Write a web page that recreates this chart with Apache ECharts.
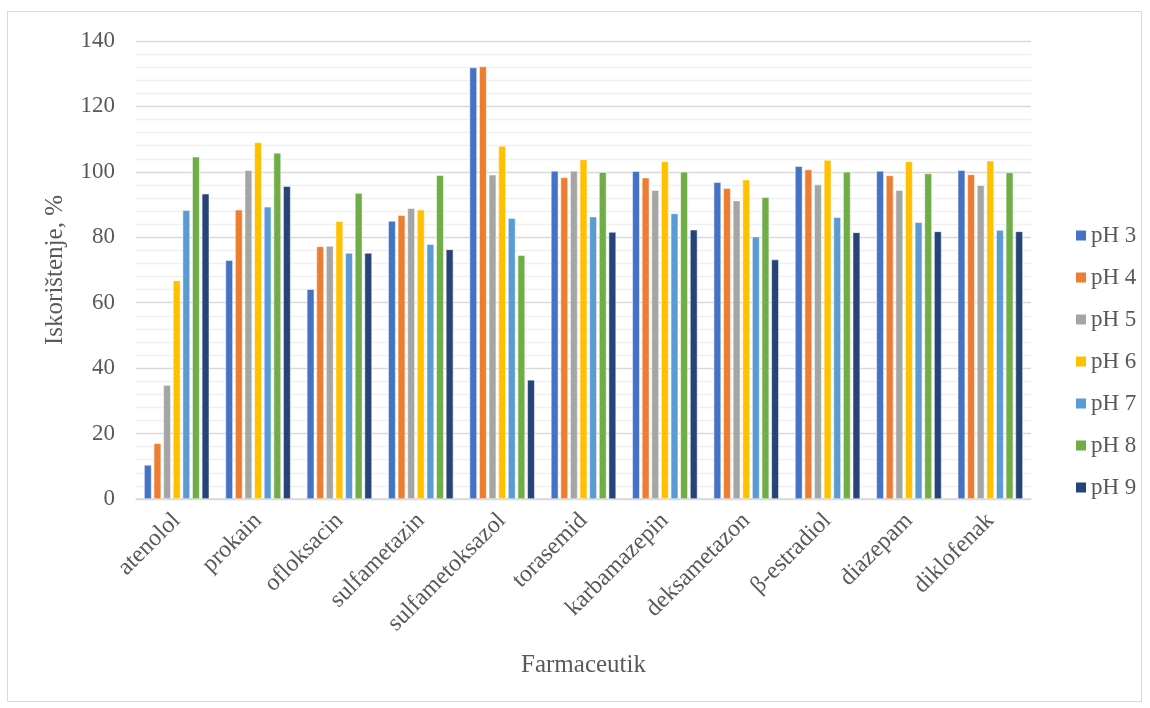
<!DOCTYPE html>
<html>
<head>
<meta charset="utf-8">
<script src="https://cdn.jsdelivr.net/npm/echarts@6/dist/echarts.min.js"></script>
<style>
html, body { margin: 0; padding: 0; background: #fff; }
#chart {
    position: absolute;
    left: 7px; top: 11px;
    width: 1135px; height: 691px;
    border: 1px solid #d9d9d9;
    box-sizing: border-box;
}
</style>
</head>
<body>
<div id="chart"></div>
<script>
// kategorije i vrijednosti (iskorištenje, %)
const farmaceutici = ['atenolol', 'prokain', 'ofloksacin', 'sulfametazin', 'sulfametoksazol',
    'torasemid', 'karbamazepin', 'deksametazon', 'β-estradiol', 'diazepam', 'diklofenak'];
const serije = ['pH 3', 'pH 4', 'pH 5', 'pH 6', 'pH 7', 'pH 8', 'pH 9'];
const pH3 = [10.4, 73.0, 64.1, 85.0, 131.9, 100.3, 100.2, 96.8, 101.7, 100.3, 100.5];
const pH4 = [17.0, 88.4, 77.2, 86.7, 132.2, 98.3, 98.2, 95.0, 100.7, 98.9, 99.2];
const pH5 = [34.8, 100.5, 77.3, 88.9, 99.1, 100.3, 94.4, 91.2, 96.1, 94.4, 95.9];
const pH6 = [66.8, 109.0, 84.9, 88.4, 107.9, 103.8, 103.2, 97.6, 103.6, 103.2, 103.4];
const pH7 = [88.3, 89.3, 75.2, 77.9, 85.8, 86.3, 87.3, 80.2, 86.1, 84.6, 82.2];
const pH8 = [104.6, 105.8, 93.5, 99.0, 74.5, 99.9, 100.0, 92.2, 100.0, 99.5, 99.8];
const pH9 = [93.3, 95.6, 75.2, 76.3, 36.4, 81.6, 82.3, 73.2, 81.5, 81.8, 81.8];
const yTicks = [0, 20, 40, 60, 80, 100, 120, 140];

const boje = ['#4472C4', '#ED7D31', '#A5A5A5', '#FFC000', '#5B9BD5', '#70AD47', '#264478'];
const podaci = [pH3, pH4, pH5, pH6, pH7, pH8, pH9];
const font = '"Liberation Serif", "Times New Roman", serif';

let chart = echarts.init(document.getElementById('chart'));

let option = {
    animation: false,
    color: boje,
    textStyle: { fontFamily: font },
    grid: { left: 128, right: 110, top: 29, bottom: 202 },
    legend: {
        orient: 'vertical',
        left: 1061,
        top: 207,
        padding: 5,
        itemWidth: 12,
        itemHeight: 12,
        itemGap: 19,
        icon: 'rect',
        data: serije,
        textStyle: { color: '#595959', fontSize: 23, fontFamily: font, padding: [0, 0, 0, -1] }
    },
    xAxis: {
        type: 'category',
        data: farmaceutici,
        name: 'Farmaceutik',
        nameLocation: 'middle',
        nameGap: 154,
        nameTextStyle: { color: '#595959', fontSize: 25, fontFamily: font },
        axisLine: { lineStyle: { color: '#d9d9d9', width: 1.5 } },
        axisTick: { show: false },
        axisLabel: {
            rotate: 45,
            margin: 18,
            color: '#595959',
            fontSize: 24,
            fontFamily: font,
            interval: 0
        }
    },
    yAxis: {
        type: 'value',
        min: yTicks[0],
        max: yTicks[yTicks.length - 1],
        interval: 20,
        name: 'Iskorištenje, %',
        nameLocation: 'middle',
        nameGap: 68,
        nameTextStyle: { color: '#595959', fontSize: 25, fontFamily: font },
        axisLine: { show: false },
        axisTick: { show: false },
        axisLabel: { margin: 21, color: '#595959', fontSize: 23, fontFamily: font },
        splitLine: { lineStyle: { color: '#d9d9d9', width: 1.3 } },
        minorTick: { show: false, splitNumber: 5 },
        minorSplitLine: { show: true, lineStyle: { color: '#f0f0f0', width: 1.3 } }
    },
    series: serije.map((ime, i) => ({
        name: ime,
        type: 'bar',
        data: podaci[i],
        barWidth: 7.4,
        barGap: '30%',
        itemStyle: { color: boje[i], borderColor: '#fff', borderWidth: 0.5 }
    }))
};

chart.setOption(option);
</script>
</body>
</html>
